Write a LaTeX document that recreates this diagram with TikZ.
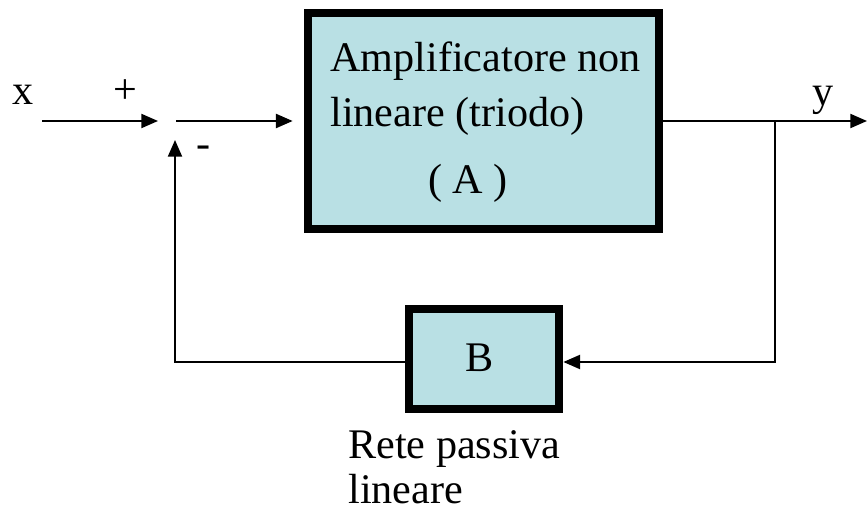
\documentclass[tikz,border=0pt]{standalone}
\usepackage{fontspec}
\setmainfont{Liberation Serif}
\usetikzlibrary{arrows.meta,positioning}
\definecolor{boxfill}{RGB}{185,224,228}
\tikzset{
  block/.style={draw, fill=boxfill, line width=5pt, inner sep=0pt},
  sig/.style={line width=1.1pt},
  lbl/.style={inner sep=0pt, anchor=base}
}

\begin{document}
\begin{tikzpicture}[x=0.02cm, y=-0.02cm, >={Triangle[length=9.5pt,width=8pt]},
  font=\fontsize{24}{25.5}\selectfont]
  \useasboundingbox (0,0) rectangle (867,510);
  \node[block, minimum width=7.02cm, minimum height=4.32cm] (amp) at (483.5,121) {};
  \node[block, minimum width=3cm, minimum height=2cm] (rete) at (484,359) {};
  \coordinate (xin) at (42,121);
  \coordinate (sumL) at (158,121);
  \coordinate (sumR) at (176,121);
  \coordinate (sumB) at (175,140);
  \coordinate (tap) at (775,121);
  \coordinate (yout) at (867,121);
  \coordinate (fb) at (175,362);
  \draw[sig,->] (xin) -- (sumL);
  \draw[sig,->,shorten >=0.22cm] (sumR) -- (sumR -| amp.west);
  \draw[sig,->] (amp.east |- tap) -- (yout);
  \draw[sig,->] (tap) |- (rete.east |- fb);
  \draw[sig,->] (rete.west |- fb) -- (fb) -- (sumB);
  \node[lbl] (xlab) at (23,105) {x};
  \node[lbl] (ylab) at (823,106) {y};
  \node[lbl] (plus) at (125,104) {+};
  \node[lbl] (minus) at (204,158) {-};
  \node[lbl, anchor=base west, align=left] (ampname) at (330,127) {Amplificatore non\\[6pt]lineare (triodo)};
  \node[lbl] (ampsym) at (468,194) {( A )};
  \node[lbl] (retesym) at (480,372) {B};
  \node[lbl, anchor=base west, align=left] (retename) at (348,503) {Rete passiva\\lineare};
\end{tikzpicture}
\end{document}
